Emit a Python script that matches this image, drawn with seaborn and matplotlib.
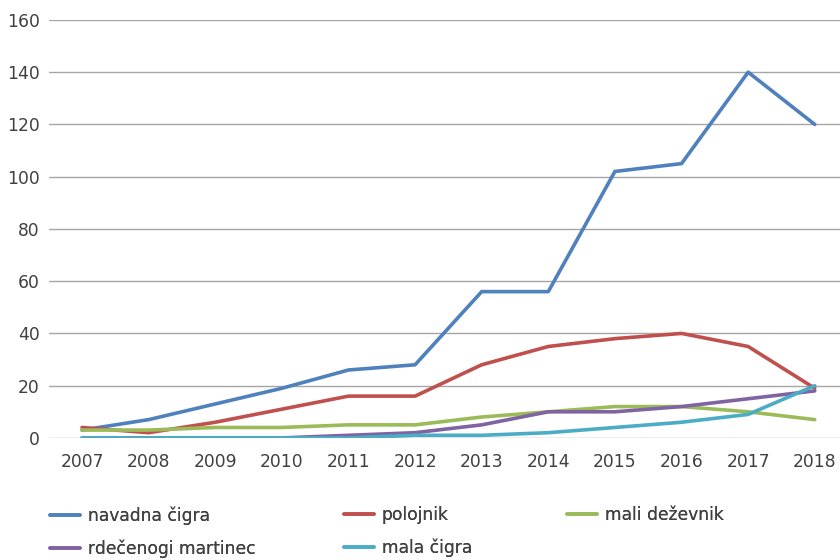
import pandas as pd
import matplotlib.pyplot as plt
import seaborn as sns

years = [2007, 2008, 2009, 2010, 2011, 2012, 2013, 2014, 2015, 2016, 2017, 2018]

navadna_cigra = [3, 7, 13, 19, 26, 28, 56, 56, 102, 105, 140, 120]
polojnik = [4, 2, 6, 11, 16, 16, 28, 35, 38, 40, 35, 19]
mali_dezevnik = [3, 3, 4, 4, 5, 5, 8, 10, 12, 12, 10, 7]
rdecenogi_martinec = [0, 0, 0, 0, 1, 2, 5, 10, 10, 12, 15, 18]
mala_cigra = [0, 0, 0, 0, 0, 1, 1, 2, 4, 6, 9, 20]

series_names = ["navadna čigra", "polojnik", "mali deževnik", "rdečenogi martinec", "mala čigra"]
series_values = [navadna_cigra, polojnik, mali_dezevnik, rdecenogi_martinec, mala_cigra]
colors = ["#4F81BD", "#C0504D", "#9BBB59", "#8064A2", "#4BACC6"]

y_ticks = [0, 20, 40, 60, 80, 100, 120, 140, 160]


def build_data():
    rows = []
    for name, vals in zip(series_names, series_values):
        for yr, v in zip(years, vals):
            rows.append({"leto": yr, "vrednost": v, "vrsta": name})
    return pd.DataFrame(rows)


def main():
    df = build_data()

    sns.set_style("white")
    plt.rcParams["font.family"] = ["DejaVu Sans"]
    text_color = "#404040"
    fs = 12.3

    fig = plt.figure(figsize=(8.4, 5.6), dpi=100)
    ax = fig.add_axes([0.058, 0.218, 0.9516, 0.7464])

    sns.lineplot(data=df, x="leto", y="vrednost", hue="vrsta", hue_order=series_names,
                 palette=colors, linewidth=2.6, ax=ax, legend=True, sort=False)

    handles, labels = ax.get_legend_handles_labels()
    ax.get_legend().remove()

    ax.set_xlim(2006.5, 2018.5)
    ax.set_ylim(0, 160)
    ax.set_xticks(years)
    ax.set_yticks(y_ticks)
    ax.set_xlabel("")
    ax.set_ylabel("")
    ax.grid(axis="y", color="#A6A6A6", linewidth=1.0)
    ax.set_axisbelow(True)
    for s in ax.spines.values():
        s.set_visible(False)
    ax.tick_params(axis="both", length=0, labelsize=fs, colors=text_color)
    ax.tick_params(axis="x", pad=11)
    ax.tick_params(axis="y", pad=6.5)

    # legend in three columns placed like the original
    columns = [[0, 3], [1, 4], [2]]
    col_x = [0.0595, 0.41, 0.675]
    for idx, x0 in zip(columns, col_x):
        leg = fig.legend([handles[i] for i in idx], [labels[i] for i in idx],
                         loc="upper left", bbox_to_anchor=(x0, 0.096),
                         frameon=False, fontsize=fs, handlelength=1.75,
                         handletextpad=0.45, labelspacing=0.85,
                         borderpad=0, borderaxespad=0)
        for t in leg.get_texts():
            t.set_color(text_color)
        fig.add_artist(leg)

    fig.savefig("out.png", dpi=100)


if __name__ == "__main__":
    main()
